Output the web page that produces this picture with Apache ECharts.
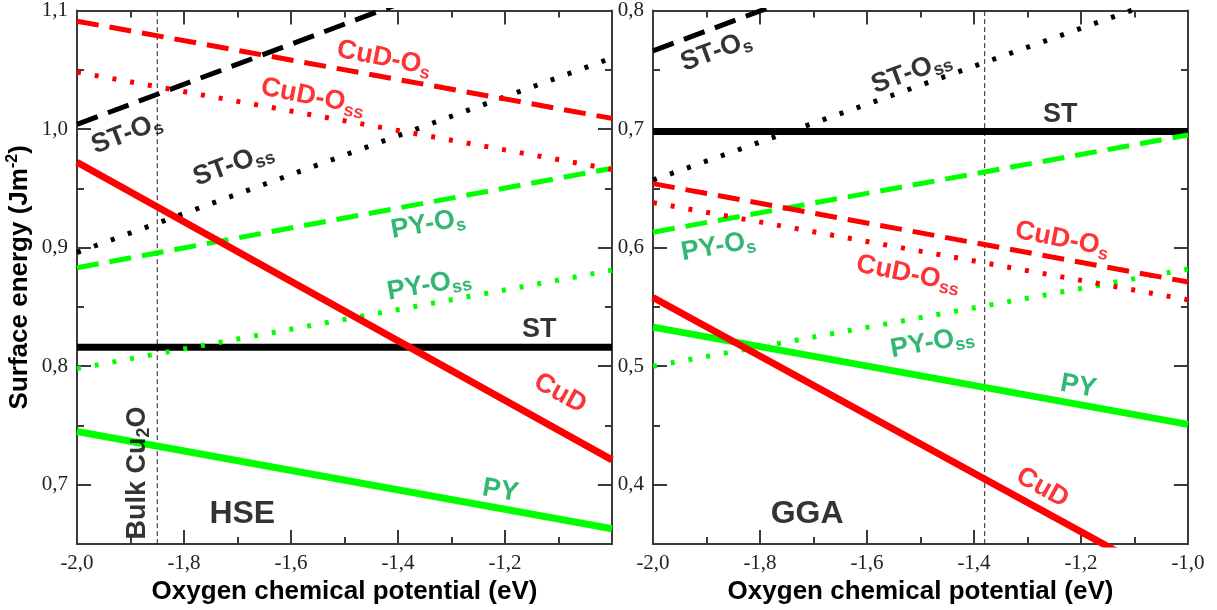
<!DOCTYPE html>
<html>
<head>
<meta charset="utf-8">
<script src="https://cdn.jsdelivr.net/npm/echarts@6/dist/echarts.min.js"></script>
<style>
html,body{margin:0;padding:0;background:#fff;}
#chart{width:1217px;height:610px;}
</style>
</head>
<body>
<div id="chart"></div>
<script>
// ---------- data ----------
const xRange = [-2.0, -1.0];           // oxygen chemical potential (eV), line end points
const xTickInterval = 0.2;
const hseYRange = [0.65, 1.1];
const ggaYRange = [0.35, 0.8];

// HSE panel: surface energies at mu = -2.0 and mu = -1.0
const hseST     = [0.816, 0.816];
const hseSTOs   = [1.004, 1.173];
const hseSTOss  = [0.896, 1.060];
const hsePY     = [0.745, 0.663];
const hsePYOs   = [0.883, 0.967];
const hsePYOss  = [0.798, 0.881];
const hseCuD    = [0.972, 0.721];
const hseCuDOs  = [1.091, 1.009];
const hseCuDOss = [1.048, 0.966];
const hseBulk   = -1.85;

// GGA panel
const ggaST     = [0.698, 0.698];
const ggaSTOs   = [0.766, 0.934];
const ggaSTOss  = [0.657, 0.817];
const ggaPY     = [0.533, 0.451];
const ggaPYOs   = [0.613, 0.695];
const ggaPYOss  = [0.500, 0.582];
const ggaCuD    = [0.558, 0.311];
const ggaCuDOs  = [0.654, 0.571];
const ggaCuDOss = [0.638, 0.556];
const ggaBulk   = -1.38;

// annotations: [text, x, y, rotation, colour key]
const hseNotes = [
  ['{m|CuD-O}{s|s}',       -1.426, 1.0597, -11, 'red'],
  ['{m|CuD-O}{s|ss}',      -1.559, 1.027,  -11, 'red'],
  ['{m|ST-O}{s|s}',        -1.907, 0.996,   21, 'black'],
  ['{m|ST-O}{s|ss}',       -1.708, 0.970,   20, 'black'],
  ['{m|PY-O}{s|s}',        -1.344, 0.9197,  10, 'green'],
  ['{m|PY-O}{s|ss}',       -1.342, 0.8685,  10, 'green'],
  ['{m|ST}',               -1.136, 0.8308,   0, 'black'],
  ['{m|CuD}',              -1.097, 0.777,  -29, 'red'],
  ['{m|PY}',               -1.209, 0.695,  -10, 'green'],
  ['{big|HSE}',            -1.691, 0.675,    0, 'black'],
  ['{m|Bulk Cu}{s|2}{m|O}',-1.887, 0.710,   90, 'black']
];
const ggaNotes = [
  ['{m|ST-O}{s|s}',        -1.882, 0.7655,  20, 'black'],
  ['{m|ST-O}{s|ss}',       -1.517, 0.748,   20, 'black'],
  ['{m|ST}',               -1.239, 0.7119,   0, 'black'],
  ['{m|PY-O}{s|s}',        -1.878, 0.601,   10, 'green'],
  ['{m|CuD-O}{s|s}',       -1.235, 0.607,  -11, 'red'],
  ['{m|CuD-O}{s|ss}',      -1.523, 0.5777, -11, 'red'],
  ['{m|PY-O}{s|ss}',       -1.478, 0.520,   10, 'green'],
  ['{m|PY}',               -1.205, 0.483,  -10, 'green'],
  ['{m|CuD}',              -1.272, 0.3975, -29, 'red'],
  ['{big|GGA}',            -1.712, 0.375,    0, 'black']
];

// ---------- styles ----------
const RED = '#ff0000', GREEN = '#00ff00', BLACK = '#000000';
const TEXT = { red: '#ff0000', green: '#00a651', black: '#000000' };
const AX = '#3a3a3a';
const SANS = 'Liberation Sans';
const SERIF = 'Liberation Serif';
const DASH = [22, 11];
const DOT = [4, 14];

const fmt = v => v.toFixed(1).replace('.', ',');
const fmtY = v => (Math.abs(v * 10 - Math.round(v * 10)) < 1e-6 ? fmt(v) : '');

function mkX(grid, pos, labels, showMax) {
  return {
    type: 'value', gridIndex: grid, position: pos,
    min: xRange[0], max: xRange[1], interval: xTickInterval,
    axisLine: { show: true, onZero: false, lineStyle: { color: AX, width: 2 } },
    axisTick: { show: true, inside: true, length: 14, lineStyle: { color: AX, width: 2 } },
    minorTick: { show: true, splitNumber: 2, length: 7, lineStyle: { color: AX, width: 2 } },
    splitLine: { show: false }, minorSplitLine: { show: false },
    axisLabel: { show: labels, showMaxLabel: showMax, margin: 9, fontFamily: SERIF, fontSize: 21, color: '#222', formatter: fmt },
    name: labels ? 'Oxygen chemical potential (eV)' : '',
    nameLocation: 'middle', nameGap: 30,
    nameTextStyle: { fontFamily: SANS, fontWeight: 'bold', fontSize: 26, color: '#000' }
  };
}
function mkY(grid, pos, major, range, labels, name) {
  const a = {
    type: 'value', gridIndex: grid, position: pos,
    min: range[0], max: range[1],
    axisLine: { show: major, onZero: false, lineStyle: { color: AX, width: 2 } },
    axisTick: { show: true, inside: true, length: major ? 14 : 7, lineStyle: { color: AX, width: 2 } },
    splitLine: { show: false },
    axisLabel: { show: labels, margin: 9, fontFamily: SERIF, fontSize: 21, color: '#222', formatter: fmtY }
  };
  if (!major) a.interval = 0.05;
  if (name) {
    a.name = '{t|Surface energy (Jm}{p|-2}{t|)}';
    a.nameLocation = 'middle';
    a.nameGap = 42;
    a.nameTextStyle = {
      rich: {
        t: { fontFamily: SANS, fontWeight: 'bold', fontSize: 26, lineHeight: 30, color: '#000' },
        p: { fontFamily: SANS, fontWeight: 'bold', fontSize: 16, lineHeight: 16, verticalAlign: 'top', color: '#000' }
      }
    };
  }
  return a;
}

function line(g, vals, color, width, type, z) {
  return {
    type: 'line', xAxisIndex: g * 2, yAxisIndex: g * 4,
    data: [[xRange[0], vals[0]], [xRange[1], vals[1]]],
    symbol: 'none', silent: true, clip: true, z: z || 2,
    lineStyle: { color: color, width: width, type: type, cap: 'butt' }
  };
}
function vline(g, x, range) {
  return {
    type: 'line', xAxisIndex: g * 2, yAxisIndex: g * 4,
    data: [[x, range[0]], [x, range[1]]],
    symbol: 'none', silent: true, z: 1,
    lineStyle: { color: '#222', width: 1, type: [5, 3] }
  };
}
function rich(c) {
  return {
    m: { fontFamily: SANS, fontWeight: 'bold', fontSize: 27, lineHeight: 32, color: c },
    s: { fontFamily: SANS, fontWeight: 'bold', fontSize: 18, lineHeight: 18, verticalAlign: 'bottom', color: c },
    big: { fontFamily: SANS, fontWeight: 'bold', fontSize: 32, lineHeight: 36, color: c }
  };
}
function notes(g, list) {
  return {
    type: 'scatter', xAxisIndex: g * 2, yAxisIndex: g * 4, symbolSize: 0, silent: true, z: 10,
    itemStyle: { color: 'rgba(0,0,0,0)' },
    data: list.map(n => ({
      value: [n[1], n[2]],
      label: { show: true, position: 'inside', formatter: n[0], rotate: n[3], color: TEXT[n[4]], rich: rich(TEXT[n[4]]) }
    }))
  };
}

const option = {
  animation: false,
  backgroundColor: '#fff',
  grid: [
    { left: 77, top: 10, width: 535, height: 537 },
    { left: 653, top: 10, width: 535, height: 537 }
  ],
  xAxis: [mkX(0, 'bottom', true, false), mkX(0, 'top', false, false), mkX(1, 'bottom', true, true), mkX(1, 'top', false, false)],
  yAxis: [
    mkY(0, 'left', true, hseYRange, true, true), mkY(0, 'left', false, hseYRange, false, false),
    mkY(0, 'right', true, hseYRange, false, false), mkY(0, 'right', false, hseYRange, false, false),
    mkY(1, 'left', true, ggaYRange, true, false), mkY(1, 'left', false, ggaYRange, false, false),
    mkY(1, 'right', true, ggaYRange, false, false), mkY(1, 'right', false, ggaYRange, false, false)
  ],
  series: [
    vline(0, hseBulk, hseYRange),
    line(0, hseST, BLACK, 7, 'solid'),
    line(0, hseSTOs, BLACK, 5, DASH),
    line(0, hseSTOss, BLACK, 5, DOT),
    line(0, hsePY, GREEN, 7, 'solid'),
    line(0, hsePYOs, GREEN, 5, DASH),
    line(0, hsePYOss, GREEN, 5, DOT),
    line(0, hseCuD, RED, 7, 'solid', 3),
    line(0, hseCuDOs, RED, 5, DASH),
    line(0, hseCuDOss, RED, 5, DOT),
    notes(0, hseNotes),
    vline(1, ggaBulk, ggaYRange),
    line(1, ggaST, BLACK, 7, 'solid'),
    line(1, ggaSTOs, BLACK, 5, DASH),
    line(1, ggaSTOss, BLACK, 5, DOT),
    line(1, ggaPY, GREEN, 7, 'solid'),
    line(1, ggaPYOs, GREEN, 5, DASH),
    line(1, ggaPYOss, GREEN, 5, DOT),
    line(1, ggaCuD, RED, 7, 'solid', 3),
    line(1, ggaCuDOs, RED, 5, DASH),
    line(1, ggaCuDOss, RED, 5, DOT),
    notes(1, ggaNotes)
  ]
};
echarts.init(document.getElementById('chart'), null, { renderer: 'canvas' }).setOption(option);
</script>
</body>
</html>
